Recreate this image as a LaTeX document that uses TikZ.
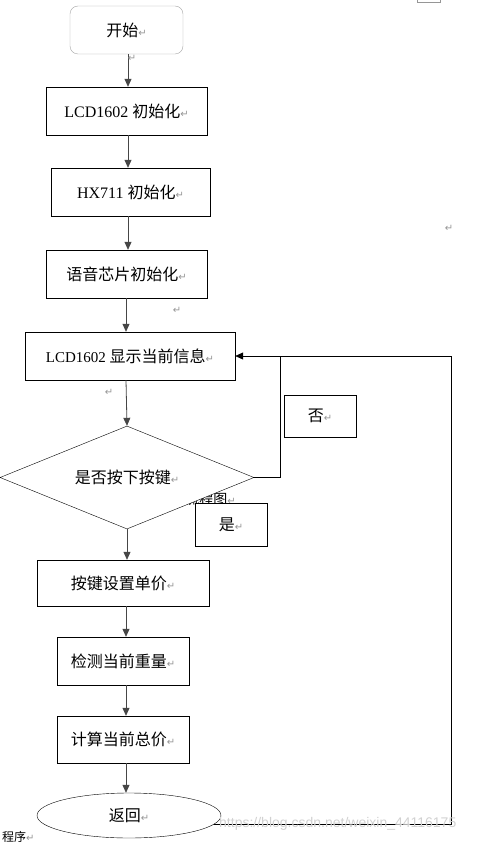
\documentclass[tikz,border=0pt]{standalone}
\usepackage{fontspec}
\setmainfont{Liberation Serif}
\newfontfamily\cjk{Noto Sans CJK SC}
\newfontfamily\dejavu{DejaVu Sans}
\newfontfamily\webfont{Liberation Sans}
\usetikzlibrary{shapes.geometric,arrows.meta}
\definecolor{markgray}{RGB}{150,150,150}
\definecolor{linegray}{RGB}{70,70,70}
\newcommand\pmark{{\color{markgray}\dejavu\fontsize{10}{12}\selectfont ↵}}
\tikzset{
  box/.style={draw, fill=white, minimum height=48pt, inner sep=0pt, font=\fontsize{16}{19}\selectfont},
  arr/.style={draw=linegray, line width=0.8pt, -{Triangle[length=8pt,width=7pt]}},
  link/.style={draw=black, line width=0.8pt},
}

\begin{document}
\begin{tikzpicture}[x=1pt,y=-1pt]
\useasboundingbox (0,0) rectangle (499,843);
\draw[markgray] (417,0) -- (417,2) -- (440,2) -- (440,0);

\node[box, rounded corners=8pt, draw=black!35, minimum width=113pt] (start) at (126.5,30) {{\cjk 开始}\pmark};
\node[box, minimum width=161pt] (lcdinit) at (126.5,111) {LCD1602 {\cjk 初始化}\pmark};
\node[box, minimum width=159pt] (hxinit) at (130.5,192) {HX711 {\cjk 初始化}\pmark};
\node[box, minimum width=161pt] (voice) at (126.5,274) {{\cjk 语音芯片初始化}\pmark};
\node[box, minimum width=210pt] (show) at (130,356) {\fontsize{15}{18}\selectfont LCD1602 {\cjk\fontsize{16}{19}\selectfont 显示当前信息}\pmark};

% text left behind the decision
\node[anchor=east, inner sep=0pt, font=\fontsize{14}{16}\selectfont] (chart) at (236,499) {{\cjk 流程图}\pmark};
\node[box, diamond, aspect=2.5, minimum width=254pt, minimum height=103pt] (key) at (127,477.5) {{\cjk 是否按下按键}\pmark};
\node[box, minimum width=72pt, minimum height=42pt] (no) at (320,416) {{\cjk 否}\pmark};
\node[box, minimum width=72pt, minimum height=43pt] (yes) at (231,524.5) {{\cjk 是}\pmark};

\node[box, minimum width=172pt, minimum height=46pt] (price) at (123,583) {{\cjk 按键设置单价}\pmark};
\node[box, minimum width=132pt] (weigh) at (123,661) {{\cjk 检测当前重量}\pmark};
\node[box, minimum width=132pt, minimum height=47pt] (total) at (123,739.5) {{\cjk 计算当前总价}\pmark};
\node[box, ellipse, minimum width=184pt, minimum height=45pt] (ret) at (129,815.5) {{\cjk 返回}\pmark};

\coordinate (turn) at (280,356);
\coordinate (back) at (451,356);

\draw[arr] (start.south -| 128,0) -- (lcdinit.north -| 128,0);
\draw[arr] (lcdinit.south -| 128,0) -- (hxinit.north -| 128,0);
\draw[arr] (hxinit.south -| 128,0) -- (voice.north -| 128,0);
\draw[arr] (voice.south -| 126,0) -- (show.north -| 126,0);
\draw[arr] (show.south -| 126,0) -- (key.north);
\draw[arr] (key.south) -- (price.north -| key.south);
\draw[arr] (price.south -| 126,0) -- (weigh.north -| 126,0);
\draw[arr] (weigh.south -| 126,0) -- (total.north -| 126,0);
\draw[arr] (total.south -| 126,0) -- (ret.north -| 126,0);

\draw[link] (key.east) -| (turn);
\draw[arr, draw=black] (turn) -- (show.east);
\draw[link] (ret.-6.5) -| (back) -- (turn);

% stray marks of the page
\node[inner sep=0pt] (m1) at (132,58) {\pmark};
\node[inner sep=0pt] (m2) at (449,228) {\pmark};
\node[inner sep=0pt] (m3) at (177,310) {\pmark};
\node[inner sep=0pt] (m4) at (109,392) {\pmark};
\node[anchor=south west, inner sep=0pt, font=\fontsize{12}{14}\selectfont] (prog) at (2,843) {{\cjk 程序}\pmark};
\node[anchor=west, inner sep=0pt, text=black!18, font=\webfont\fontsize{14}{16}\selectfont] (wm) at (219,824) {https://blog.csdn.net/weixin\_44116175};
\end{tikzpicture}
\end{document}
